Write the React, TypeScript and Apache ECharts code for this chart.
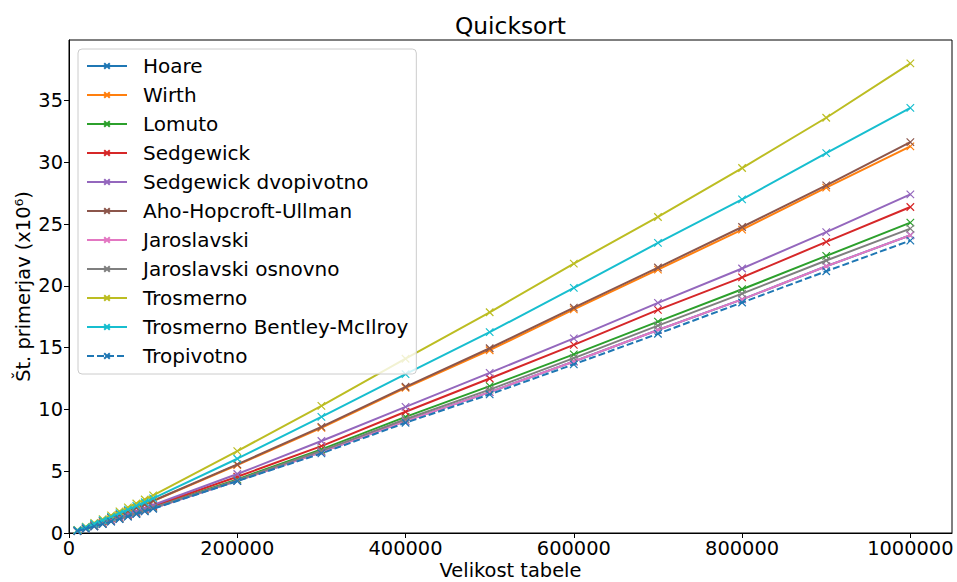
import React, { useEffect, useRef } from "react";
import * as echarts from "echarts";

const sizes = [
  10000, 20000, 30000, 40000, 50000, 60000, 70000, 80000, 90000, 100000,
  200000, 300000, 400000, 500000, 600000, 700000, 800000, 900000, 1000000,
];

const hoare = [0.16, 0.34, 0.54, 0.74, 0.94, 1.14, 1.35, 1.56, 1.78, 2.0, 4.22, 6.55, 9.05, 11.4, 13.88, 16.43, 18.9, 21.58, 24.09];
const wirth = [0.21, 0.44, 0.69, 0.95, 1.21, 1.48, 1.75, 2.03, 2.3, 2.58, 5.5, 8.5, 11.75, 14.79, 18.1, 21.31, 24.55, 27.94, 31.28];
const lomuto = [0.17, 0.36, 0.56, 0.77, 0.98, 1.19, 1.41, 1.63, 1.85, 2.08, 4.34, 6.77, 9.4, 11.88, 14.45, 17.1, 19.72, 22.42, 25.11];
const sedgewick = [0.17, 0.37, 0.58, 0.8, 1.02, 1.25, 1.48, 1.71, 1.94, 2.18, 4.55, 7.03, 9.81, 12.5, 15.22, 18.05, 20.68, 23.55, 26.38];
const sedgewickDvo = [0.18, 0.39, 0.61, 0.83, 1.06, 1.3, 1.54, 1.78, 2.02, 2.27, 4.77, 7.44, 10.21, 12.96, 15.75, 18.62, 21.4, 24.35, 27.4];
const ahu = [0.21, 0.45, 0.7, 0.96, 1.23, 1.5, 1.77, 2.05, 2.33, 2.61, 5.55, 8.59, 11.83, 14.95, 18.24, 21.48, 24.76, 28.13, 31.63];
const jaroslavski = [0.16, 0.34, 0.54, 0.74, 0.94, 1.14, 1.35, 1.56, 1.78, 2.0, 4.22, 6.55, 9.05, 11.4, 13.88, 16.43, 18.9, 21.58, 24.09];
const jaroslavskiOsn = [0.16, 0.35, 0.55, 0.75, 0.96, 1.17, 1.38, 1.6, 1.82, 2.04, 4.27, 6.65, 9.2, 11.6, 14.15, 16.78, 19.37, 22.05, 24.63];
const trosmerno = [0.24, 0.52, 0.82, 1.12, 1.43, 1.75, 2.07, 2.39, 2.71, 3.05, 6.63, 10.29, 14.1, 17.86, 21.8, 25.57, 29.53, 33.6, 38.0];
const bentley = [0.22, 0.48, 0.75, 1.03, 1.31, 1.6, 1.89, 2.19, 2.49, 2.8, 6.01, 9.4, 12.85, 16.25, 19.83, 23.47, 27.0, 30.74, 34.4];
const tropivotno = [0.16, 0.34, 0.53, 0.72, 0.92, 1.12, 1.33, 1.54, 1.75, 1.96, 4.2, 6.44, 8.92, 11.22, 13.65, 16.12, 18.65, 21.18, 23.66];

const seriesNames = [
  "Hoare", "Wirth", "Lomuto", "Sedgewick", "Sedgewick dvopivotno",
  "Aho-Hopcroft-Ullman", "Jaroslavski", "Jaroslavski osnovno", "Trosmerno",
  "Trosmerno Bentley-McIlroy", "Tropivotno",
];
const seriesValues = [
  hoare, wirth, lomuto, sedgewick, sedgewickDvo, ahu, jaroslavski,
  jaroslavskiOsn, trosmerno, bentley, tropivotno,
];
const colors = [
  "#1f77b4", "#ff7f0e", "#2ca02c", "#d62728", "#9467bd", "#8c564b",
  "#e377c2", "#7f7f7f", "#bcbd22", "#17becf", "#1f77b4",
];
const dashed = [false, false, false, false, false, false, false, false, false, false, true];

const xTicks = [0, 200000, 400000, 600000, 800000, 1000000];
const yTicks = [0, 5, 10, 15, 20, 25, 30, 35];

const FONT = "DejaVu Sans";
const X_SYMBOL = "path://M0,0L10,10M10,0L0,10";

export default function App() {
  const ref = useRef<HTMLDivElement>(null);
  useEffect(() => {
    if (!ref.current) return;
    const chart = echarts.init(ref.current, undefined, { renderer: "svg" });
    const series = seriesNames.map((name, i) => ({
      name,
      type: "line",
      data: sizes.map((s, j) => [s, seriesValues[i][j]]),
      symbol: X_SYMBOL,
      symbolSize: 7.5,
      showSymbol: true,
      color: colors[i],
      itemStyle: { color: colors[i], borderColor: colors[i], borderWidth: 1.2 },
      lineStyle: { color: colors[i], width: 2, type: dashed[i] ? [7, 3] : "solid" },
      z: 2 + i,
    }));
    chart.setOption({
      animation: false,
      backgroundColor: "#fff",
      textStyle: { fontFamily: FONT },
      graphic: [
        {
          type: "text",
          x: 510.5,
          y: 25,
          style: {
            text: "Quicksort",
            font: `23.3px '${FONT}'`,
            fill: "#000",
            textAlign: "center",
            textVerticalAlign: "middle",
          },
        },
      ],
      grid: {
        left: 69,
        right: 5,
        top: 40,
        bottom: 49,
        show: true,
        borderColor: "#000",
        borderWidth: 1,
        backgroundColor: "transparent",
        outerBoundsMode: "none",
        containLabel: false,
      },
      legend: {
        orient: "vertical",
        left: 78,
        top: 49,
        padding: [7, 8, 8, 8],
        itemWidth: 40,
        itemHeight: 7,
        itemGap: 9,
        backgroundColor: "rgba(255,255,255,0.8)",
        borderColor: "#cccccc",
        borderWidth: 1,
        borderRadius: 4,
        data: seriesNames,
        textStyle: {
          fontSize: 20,
          color: "#000",
          fontFamily: FONT,
          lineHeight: 20,
          padding: [0, 0, 0, 11],
        },
        z: 20,
      },
      xAxis: {
        type: "value",
        min: 0,
        max: 1049500,
        interval: 200000,
        name: "Velikost tabele",
        nameLocation: "middle",
        nameGap: 28,
        nameMoveOverlap: false,
        nameTextStyle: { fontSize: 19.4, color: "#000", fontFamily: FONT },
        axisLine: { show: true, lineStyle: { color: "#000", width: 1 } },
        axisTick: { show: true, inside: false, length: 5, lineStyle: { color: "#000" } },
        axisLabel: {
          fontSize: 19.4,
          color: "#000",
          fontFamily: FONT,
          margin: 6,
          showMaxLabel: false,
          formatter: (v: number) => (xTicks.includes(v) ? String(v) : ""),
        },
        splitLine: { show: false },
      },
      yAxis: {
        type: "value",
        min: 0,
        max: 39.89,
        interval: 5,
        name: "Št. primerjav (x10⁶)",
        nameLocation: "middle",
        nameGap: 36,
        nameMoveOverlap: false,
        nameTextStyle: { fontSize: 19.4, color: "#000", fontFamily: FONT },
        axisLine: { show: true, lineStyle: { color: "#000", width: 1 } },
        axisTick: { show: true, inside: false, length: 5, lineStyle: { color: "#000" } },
        axisLabel: {
          fontSize: 19.4,
          color: "#000",
          fontFamily: FONT,
          margin: 6,
          showMaxLabel: false,
          formatter: (v: number) => (yTicks.includes(v) ? String(v) : ""),
        },
        splitLine: { show: false },
      },
      series,
    });
    return () => chart.dispose();
  }, []);
  return (
    <div
      ref={ref}
      style={{ position: "absolute", left: 0, top: 0, width: 957, height: 582 }}
    />
  );
}
